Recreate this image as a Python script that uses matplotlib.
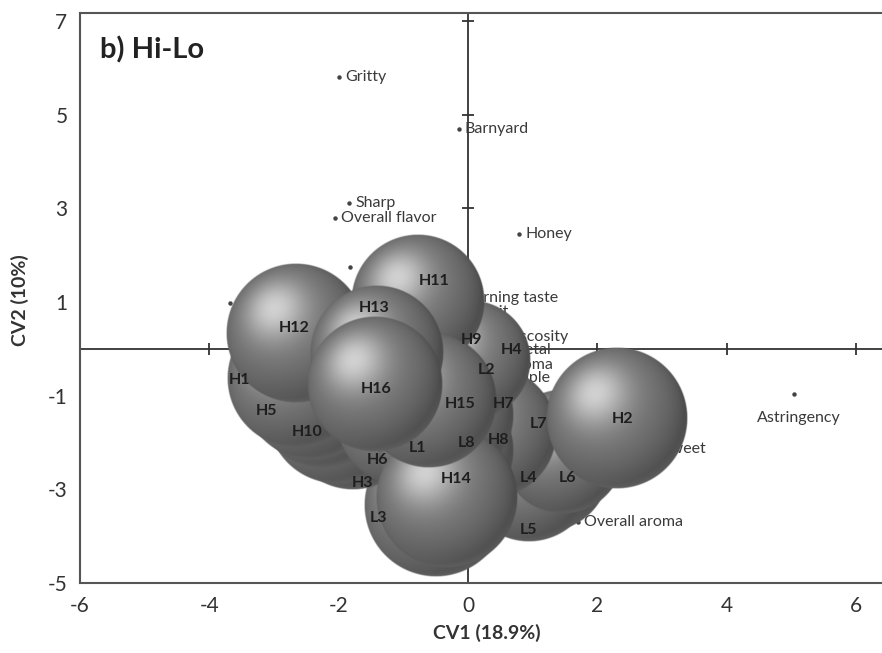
import numpy as np
import matplotlib
matplotlib.use('Agg')
import matplotlib.pyplot as plt

plt.rcParams['font.family'] = ['Lato', 'DejaVu Sans']
plt.rcParams['axes.unicode_minus'] = False

# samples (bubbles), listed back to front
samples = ['L6', 'L5', 'L7', 'L4', 'L3', 'H3', 'H6', 'H10', 'H5', 'H1', 'L1', 'L8',
           'H8', 'H7', 'H14', 'H9', 'L2', 'H4', 'H12', 'H11', 'H15', 'H13', 'H16', 'H2']
cv1 = [1.21, 0.94, 1.47, 0.36, -0.49, -1.78, -2.03, -2.24, -2.41, -2.64, -1.04, -0.42,
       -0.34, -0.34, -0.32, -0.57, -0.42, 0.05, -2.66, -0.77, -0.60, -1.41, -1.44, 2.30]
cv2 = [-2.54, -2.71, -2.20, -1.77, -3.33, -1.56, -1.39, -1.05, -0.88, -0.62, -1.52, -1.73,
       -2.16, -1.41, -3.16, 0.09, -0.49, -0.24, 0.34, 1.03, -1.09, -0.09, -0.75, -1.47]
bubble_size = [64, 66, 62, 66, 72, 68, 70, 70, 70, 70, 65, 65,
               68, 68, 71, 62, 65, 60, 70, 67, 68, 67, 68, 71]

# sensory attributes
attributes = ['Gritty', 'Barnyard', 'Sharp', 'Overall flavor', 'Honey', 'Burning taste',
              'Fruit', 'Viscosity', 'Metal', 'Aroma', 'Apple', 'Sweet', 'Overall aroma',
              'Astringency', '', '']
att_x = [-1.99, -0.14, -1.84, -2.06, 0.79, -0.15, 0.03, 0.49, 0.57, 0.51, 0.56, 2.92, 1.70,
         5.04, -1.82, -3.68]
att_y = [5.81, 4.70, 3.12, 2.80, 2.46, 1.09, 0.79, 0.26, -0.02, -0.34, -0.62, -2.14, -3.70,
         -0.96, 1.75, 0.98]

xticks = [-6, -4, -2, 0, 2, 4, 6]
yticks = [7, 5, 3, 1, -1, -3, -5]

# label offsets for the sample names (pixels, right / down)
label_off = [(21, 10), (0, 54), (-25, -28), (37, 46), (-58, 13), (10, 61), (41, 46), (-16, 34),
             (-46, 21), (-58, 2), (17, 28), (26, 13), (52, -10), (57, -11), (9, -18), (40, -5),
             (46, -2), (40, -10), (-2, -5), (16, -20), (31, 4), (-3, -45), (1, 5), (6, 1)]

W, H = 882, 653
fig = plt.figure(figsize=(W / 100, H / 100), dpi=100)
ax_l, ax_b, ax_w, ax_h = 80, 70, 802, 570
ax = fig.add_axes([ax_l / W, ax_b / H, ax_w / W, ax_h / H])
xlim = (-6, 6.402)
ylim = (-5, 7.17)
sx = ax_w / (xlim[1] - xlim[0])
sy = ax_h / (ylim[1] - ylim[0])


def sphere(r):
    n = int(r * 4)
    u, v = np.meshgrid(np.linspace(-1, 1, n), np.linspace(-1, 1, n))
    d = np.sqrt(u ** 2 + v ** 2)
    z = np.sqrt(np.clip(1 - d ** 2, 0, 1))
    L = np.array([-0.35, 0.4, 1.0])
    L = L / np.linalg.norm(L)
    diff = np.clip(u * L[0] + v * L[1] + z * L[2], 0, 1)
    inten = 0.30 + 0.22 * diff + 0.30 * diff ** 10
    inten += 0.08 * np.clip(-v, 0, 1) * d ** 8
    inten = np.clip(inten, 0, 1)
    img = np.zeros((n, n, 4))
    img[..., 0] = inten
    img[..., 1] = inten
    img[..., 2] = inten
    img[..., 3] = np.clip((1 - d) * r * 1.2, 0, 1)
    return img


for i, (x, y, s) in enumerate(zip(cv1, cv2, bubble_size)):
    rx, ry = s / sx, s / sy
    ax.imshow(sphere(s), extent=(x - rx, x + rx, y - ry, y + ry), origin='lower',
              aspect='auto', interpolation='bilinear', zorder=3 + i * 0.01)

for i, name in enumerate(samples):
    dx, dy = label_off[i]
    ax.annotate(name, (cv1[i], cv2[i]), xytext=(dx, -dy), textcoords='offset pixels',
                ha='center', va='center', fontsize=11.5, fontweight='bold', color='#1e1e1e',
                zorder=20)

ax.plot(att_x, att_y, 'o', ms=2.2, color='#444444', zorder=2)
for name, x, y in zip(attributes, att_x, att_y):
    if name == 'Astringency':
        ax.annotate(name, (x, y), xytext=(5, -24), textcoords='offset pixels',
                    ha='center', va='center', fontsize=11.5, color='#3a3a3a', zorder=2)
    elif name:
        ax.annotate(name, (x, y), xytext=(6, 0), textcoords='offset pixels',
                    ha='left', va='center', fontsize=11.5, color='#3a3a3a', zorder=2)

# centre cross with its own tick marks
ax.axhline(0, color='#333333', lw=1.3, zorder=1)
ax.axvline(0, color='#333333', lw=1.3, zorder=1)
cx_ticks = [t for t in xticks if t not in (-6, 0)]
cy_ticks = [t for t in yticks if t not in (-5,)]
ax.plot(cx_ticks, np.zeros(len(cx_ticks)), ls='none', marker='|', ms=9, mew=1.3,
        color='#333333', zorder=1)
ax.plot(np.zeros(len(cy_ticks)), cy_ticks, ls='none', marker='_', ms=9, mew=1.3,
        color='#333333', zorder=1)

ax.set_xlim(xlim)
ax.set_ylim(ylim)
ax.set_xticks(xticks)
ax.set_yticks(yticks)
ax.tick_params(length=0, labelsize=15, colors='#333333', pad=9)
for side in ['left', 'bottom', 'top']:
    ax.spines[side].set_color('#555555')
    ax.spines[side].set_linewidth(1.5)
ax.spines['right'].set_visible(False)

ax.text(0.025, 0.935, 'b) Hi-Lo', transform=ax.transAxes, fontsize=21, fontweight='bold',
        va='center', ha='left', color='#222222')
fig.text(487 / W, 1 - 633 / H, 'CV1 (18.9%)', fontsize=14, fontweight='bold', color='#333333',
         ha='center', va='center')
fig.text(20 / W, 1 - 300 / H, 'CV2 (10%)', fontsize=14, fontweight='bold', color='#333333',
         ha='center', va='center', rotation=90)

fig.savefig('out.png', dpi=100)
